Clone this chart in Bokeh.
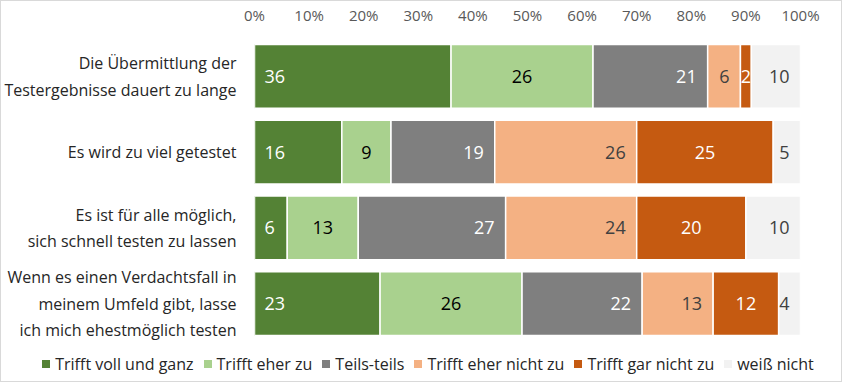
from bokeh.plotting import figure
from bokeh.layouts import column
from bokeh.models import ColumnDataSource, FactorRange, FixedTicker, Range1d, Div
from bokeh.embed import file_html
from bokeh.resources import INLINE
from bokeh.core.properties import value

categories = [
    "Die Übermittlung der\nTestergebnisse dauert zu lange",
    "Es wird zu viel getestet",
    "Es ist für alle möglich,\nsich schnell testen zu lassen",
    "Wenn es einen Verdachtsfall in\nmeinem Umfeld gibt, lasse\nich mich ehestmöglich testen",
]
series = ["Trifft voll und ganz", "Trifft eher zu", "Teils-teils",
          "Trifft eher nicht zu", "Trifft gar nicht zu", "weiß nicht"]
voll = [36, 16, 6, 23]
eher = [26, 9, 13, 26]
teils = [21, 19, 27, 22]
eher_nicht = [6, 26, 24, 13]
gar_nicht = [2, 25, 20, 12]
weiss_nicht = [10, 5, 10, 4]
ticks = [0, 10, 20, 30, 40, 50, 60, 70, 80, 90, 100]
tick_labels = ["0%", "10%", "20%", "30%", "40%", "50%", "60%", "70%", "80%", "90%", "100%"]

colors = ["#548235", "#A9D18E", "#7F7F7F", "#F4B183", "#C55A11", "#F2F2F2"]
label_colors = ["#FFFFFF", "#000000", "#FFFFFF", "#404040", "#FFFFFF", "#404040"]
label_modes = ["base", "center", "end", "end", "center", "end"]
FONT = "Open Sans"

values = [voll, eher, teils, eher_nicht, gar_nicht, weiss_nicht]
keys = ["s%d" % i for i in range(len(series))]
data = {"cat": categories}
for k, v in zip(keys, values):
    data[k] = v
source = ColumnDataSource(data)

X_MAX = 100
p = figure(width=830, height=340, output_backend="svg", toolbar_location=None,
           y_range=FactorRange(factors=list(reversed(categories))),
           x_range=Range1d(0, X_MAX), x_axis_location="above",
           min_border_left=246, min_border_right=31, min_border_top=28, min_border_bottom=0)

rs = p.hbar_stack(keys, y="cat", height=0.84, source=source, color=colors,
                  line_color="white", line_width=1.5)

# data labels
cum = [0] * len(categories)
for i, v in enumerate(values):
    start = cum
    end = [c + x for c, x in zip(cum, v)]
    cum = end
    mode = label_modes[i]
    if mode == "base":
        xs, align, off = start, "left", 10
    elif mode == "center":
        xs, align, off = [(a + b) / 2 for a, b in zip(start, end)], "center", 0
    else:
        xs, align, off = [min(b, X_MAX) for b in end], "right", -11
    src = ColumnDataSource(dict(x=xs, y=categories, t=[str(x) for x in v]))
    p.text(x="x", y="y", text="t", source=src, text_align=align, text_baseline="middle",
           x_offset=off, text_color=label_colors[i], text_font_size="18px",
           text_font=value(FONT))

p.xaxis.ticker = FixedTicker(ticks=ticks)
p.xaxis.major_label_overrides = {t: l for t, l in zip(ticks, tick_labels)}
for ax in (p.xaxis, p.yaxis):
    ax.axis_line_color = None
    ax.major_tick_line_color = None
    ax.minor_tick_line_color = None
    ax.major_label_text_font = FONT
p.xaxis.major_label_text_font_size = "15px"
p.xaxis.major_label_text_color = "#595959"
p.xaxis.major_label_standoff = 8
p.yaxis.major_label_text_font_size = "16px"
p.yaxis.major_label_text_color = "#262626"
p.yaxis.major_label_standoff = 12
p.xgrid.grid_line_color = None
p.ygrid.grid_line_color = None
p.outline_line_color = None

# legend strip (HTML)
items = "".join(
    '<span style="display:inline-flex;align-items:center;margin:0 5px;">'
    '<span style="display:inline-block;width:8px;height:8px;background:%s;margin-right:5px;"></span>'
    '<span>%s</span></span>' % (c, s)
    for c, s in zip(colors, series))
legend_html = ('<div style="width:816px;margin-left:14px;text-align:center;white-space:nowrap;'
               'font-family:\'Open Sans\';font-size:16px;color:#262626;line-height:20px;'
               'padding-top:6px;">%s</div>' % items)
leg = Div(text=legend_html, width=830, height=30)

layout = column(p, leg, spacing=0, styles={"border": "1px solid #D9D9D9"})

open("out.html", "w").write(file_html(layout, INLINE))
